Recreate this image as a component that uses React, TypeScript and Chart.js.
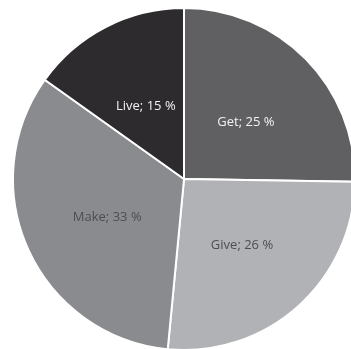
import React, { useEffect, useRef } from "react";
import { Chart, registerables } from "chart.js";

Chart.register(...registerables);

const categories = ["Get", "Give", "Make", "Live"];
const shares = [25, 26, 33, 15];
const sliceColors = ["#606062", "#b1b2b5", "#8a8b8e", "#2d2b2d"];
const labelColors = ["#f2f2f2", "#4e4e50", "#4e4e50", "#f2f2f2"];

const labelPlugin = {
  id: "sliceLabels",
  afterDatasetsDraw(chart: any) {
    const ctx = chart.ctx;
    const meta = chart.getDatasetMeta(0);
    ctx.save();
    ctx.font = "13px 'Open Sans', 'Noto Sans', sans-serif";
    ctx.textAlign = "center";
    ctx.textBaseline = "middle";
    meta.data.forEach((arc: any, i: number) => {
      const p = arc.tooltipPosition();
      ctx.fillStyle = labelColors[i];
      ctx.fillText(`${categories[i]}; ${shares[i]} %`, p.x + 1, p.y + 3);
    });
    ctx.restore();
  },
};

export default function App() {
  const ref = useRef<HTMLCanvasElement>(null);
  useEffect(() => {
    if (!ref.current) return;
    const chart = new Chart(ref.current, {
      type: "pie",
      data: {
        labels: categories,
        datasets: [
          {
            data: shares,
            backgroundColor: sliceColors,
            borderColor: "#ffffff",
            borderWidth: 2,
          },
        ],
      },
      options: {
        animation: false,
        responsive: false,
        maintainAspectRatio: false,
        layout: { padding: 0 },
        plugins: {
          legend: { display: false },
          tooltip: { enabled: false },
        },
      },
      plugins: [labelPlugin],
    });
    return () => chart.destroy();
  }, []);
  return (
    <div
      style={{
        position: "fixed",
        left: 0,
        top: 0,
        width: 351,
        height: 349,
        overflow: "hidden",
        background: "#ffffff",
      }}
    >
      <canvas
        ref={ref}
        width={344}
        height={344}
        style={{ position: "absolute", left: 12, top: 7, width: 344, height: 344 }}
      />
    </div>
  );
}
